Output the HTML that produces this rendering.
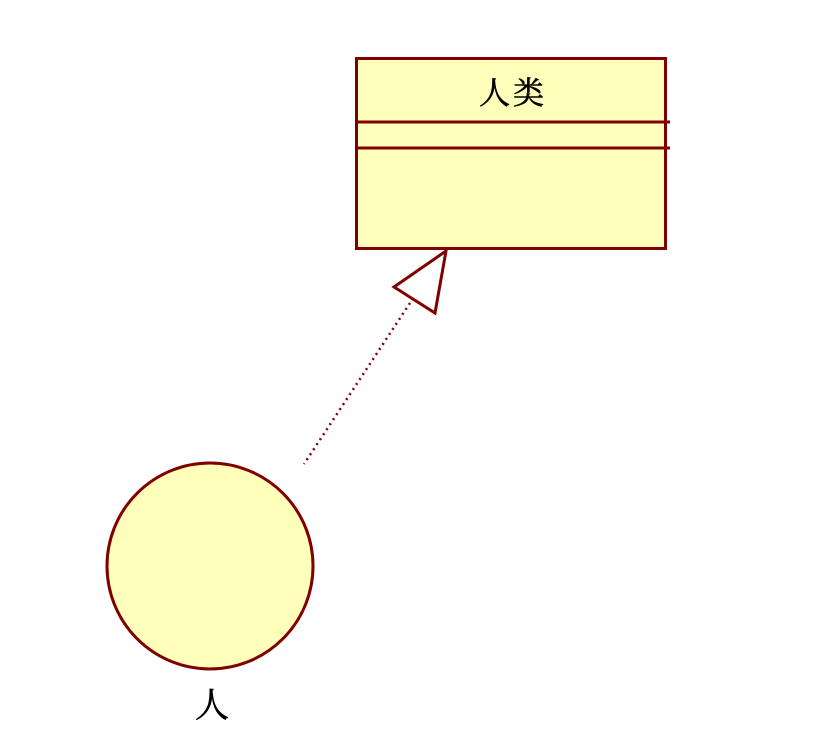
<!DOCTYPE html>
<html><head><meta charset="utf-8"><style>
html,body{margin:0;padding:0;background:#fff;width:835px;height:746px;overflow:hidden}
text{font-family:"Liberation Serif","Noto Serif CJK SC","Noto Sans CJK SC",serif;fill:#000;stroke:#000;stroke-width:0.6}
</style></head><body>
<svg width="835" height="746" viewBox="0 0 835 746">
<g>
<rect x="356.5" y="58.5" width="309" height="190" fill="#ffffbb" stroke="#800000" stroke-width="3"/>
<line x1="356" y1="122" x2="670" y2="122" stroke="#800000" stroke-width="3"/>
<line x1="356" y1="148" x2="670" y2="148" stroke="#800000" stroke-width="3"/>
<text x="513" y="104" font-size="31" letter-spacing="3" text-anchor="middle">人类</text>
</g>
<polygon points="446,251 394,287 435,313" fill="#fff" stroke="#800000" stroke-width="3"/>
<line x1="410" y1="303" x2="304" y2="464" stroke="#800000" stroke-width="2.5" stroke-dasharray="2,4"/>
<circle cx="210" cy="566" r="103" fill="#ffffbb" stroke="#800000" stroke-width="3"/>
<text x="212" y="717" font-size="34" text-anchor="middle">人</text>
</svg>
</body></html>
